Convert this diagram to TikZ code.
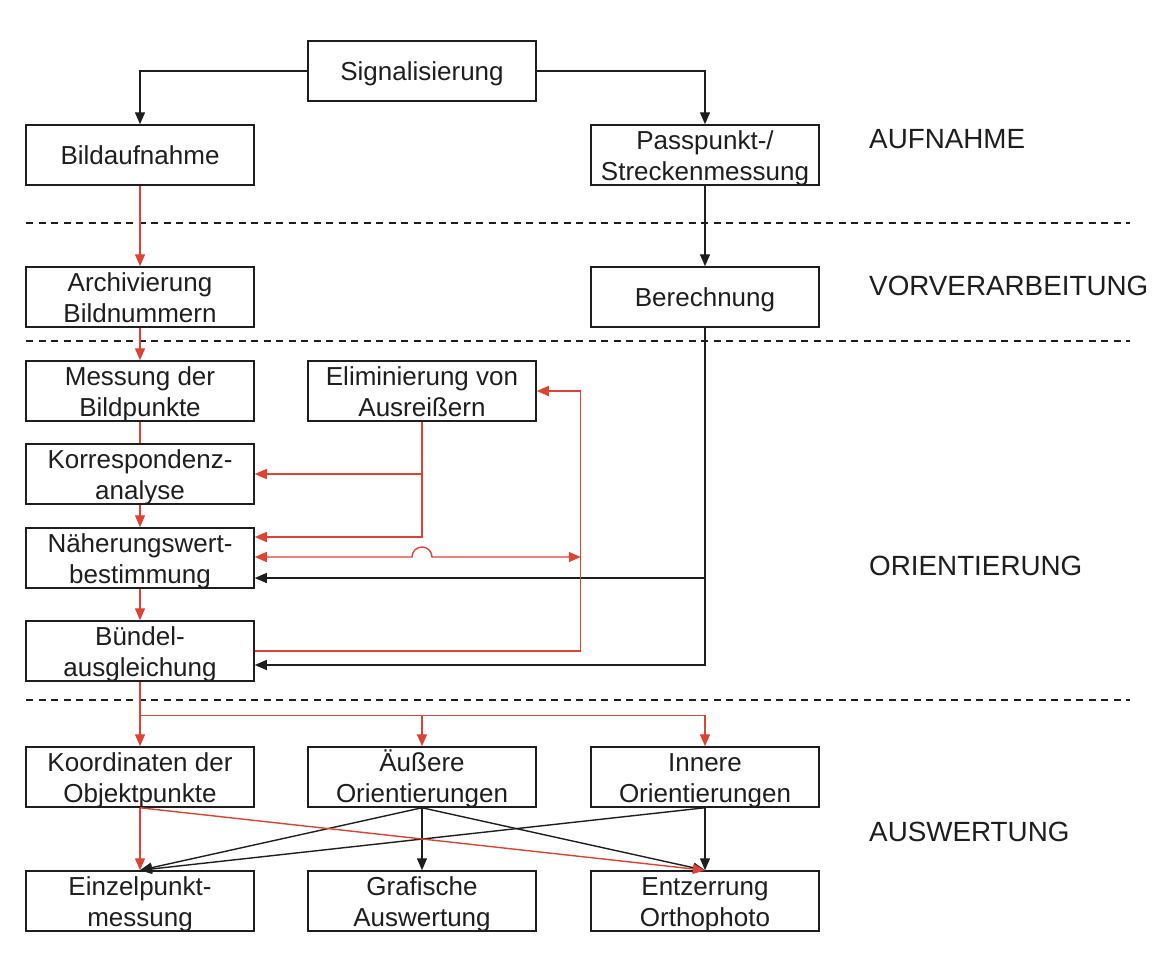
\documentclass[tikz,border=0pt]{standalone}
\usepackage{fontspec}
\setmainfont{Liberation Sans}
\usetikzlibrary{arrows.meta}
\definecolor{rd}{RGB}{222,66,50}
\definecolor{bk}{RGB}{30,30,30}
\newcommand\bt[1]{\raisebox{-9.7pt}[0pt][0pt]{\begin{tabular}{@{}c@{}}#1\end{tabular}}}
\begin{document}
\begin{tikzpicture}[x=1pt,y=-1pt,
  box/.style={draw=bk,line width=1.5pt,minimum width=228pt,minimum height=60pt,
    inner sep=0pt,font=\fontsize{26}{31.5}\selectfont,text=bk},
  lab/.style={anchor=west,inner sep=0pt,font=\fontsize{27.8}{33}\selectfont,text=bk},
  tip/.style={-{Triangle[length=12pt,width=10pt]}},
  dtip/.style={{Triangle[length=12pt,width=10pt]}-{Triangle[length=12pt,width=10pt]}},
  blk/.style={draw=bk,line width=1.4pt},
  red/.style={draw=rd,line width=1.4pt},
  dashline/.style={draw=bk,line width=1.3pt,dash pattern=on 7pt off 5.5pt}
]
\useasboundingbox (0,0) rectangle (1161,956);

% dashed separators
\draw[dashline] (26,223) -- (1130,223);
\draw[dashline] (26,341) -- (1130,341);
\draw[dashline] (26,700) -- (1130,700);

% boxes
\node[box] (sig)   at (422,71)  {\bt{Signalisierung}};
\node[box] (bild)  at (140,155) {\bt{Bildaufnahme}};
\node[box] (pass)  at (705,155) {\bt{Passpunkt-/\\Streckenmessung}};
\node[box] (arch)  at (140,297) {\bt{Archivierung\\Bildnummern}};
\node[box] (ber)   at (705,297) {\bt{Berechnung}};
\node[box] (mess)  at (140,391) {\bt{Messung der\\Bildpunkte}};
\node[box] (elim)  at (422,391) {\bt{Eliminierung von\\Ausreißern}};
\node[box] (korr)  at (140,474) {\bt{Korrespondenz-\\analyse}};
\node[box] (naeh)  at (140,558) {\bt{Näherungswert-\\bestimmung}};
\node[box] (buen)  at (140,651) {\bt{Bündel-\\ausgleichung}};
\node[box] (koord) at (140,777) {\bt{Koordinaten der\\Objektpunkte}};
\node[box] (aeuss) at (422,777) {\bt{Äußere\\Orientierungen}};
\node[box] (inn)   at (705,777) {\bt{Innere\\Orientierungen}};
\node[box] (einz)  at (140,901) {\bt{Einzelpunkt-\\messung}};
\node[box] (graf)  at (422,901) {\bt{Grafische\\Auswertung}};
\node[box] (entz)  at (705,901) {\bt{Entzerrung\\Orthophoto}};

% phase labels
\node[lab] (l1) at (869,139) {AUFNAHME};
\node[lab] (l2) at (869,286) {VORVERARBEITUNG};
\node[lab] (l3) at (869,566) {ORIENTIERUNG};
\node[lab] (l4) at (869,832) {AUSWERTUNG};

% helper coordinates
\coordinate (naehA) at ([yshift=21pt]naeh.east);
\coordinate (naehC) at ([yshift=1pt]naeh.east);
\coordinate (naehB) at ([yshift=-20pt]naeh.east);
\coordinate (buenB) at ([yshift=-14pt]buen.east);
\coordinate (loopE) at ([xshift=44pt]elim.east);
\coordinate (jmp)   at (elim.south |- naehC);
\coordinate (split) at ([yshift=-34pt]buen.south);

% top
\draw[blk,tip] (sig.west) -| (bild.north);
\draw[blk,tip] (sig.east) -| (pass.north);
\draw[red,tip] (bild.south) -- (arch.north);
\draw[blk,tip] (pass.south) -- (ber.north);

% main chain
\draw[red,tip] (arch.south) -- (mess.north);
\draw[red] (mess.south) -- (korr.north);
\draw[red,tip] (korr.south) -- (naeh.north);
\draw[red,tip] (naeh.south) -- (buen.north);

% Berechnung feed
\draw[blk,tip] (ber.south) |- (buenB);
\draw[blk,tip] (ber.south |- naehB) -- (naehB);

% Eliminierung feed
\draw[red,tip] (elim.south) |- (naehA);
\draw[red,tip] (elim.south |- korr.east) -- (korr.east);
\draw[red,dtip]
  (naehC) -- ([xshift=-10pt]jmp) arc[start angle=180,end angle=360,radius=10]
  -- (loopE |- naehC);
\draw[red,tip] (buen.east) -| (loopE) -- (elim.east);

% evaluation
\draw[red,tip] (buen.south) -- (koord.north);
\draw[red,tip] (split) -| (aeuss.north);
\draw[red,tip] (split) -| (inn.north);

\draw[red,tip] (koord.south) -- (einz.north);
\draw[blk,tip] (aeuss.south) -- (einz.north);
\draw[blk,tip] (aeuss.south) -- (graf.north);
\draw[blk,tip] (aeuss.south) -- (entz.north);
\draw[blk,tip] (inn.south) -- (einz.north);
\draw[blk,tip] (inn.south) -- (entz.north);
\draw[red,tip] (koord.south) -- (entz.north);
\end{tikzpicture}
\end{document}
